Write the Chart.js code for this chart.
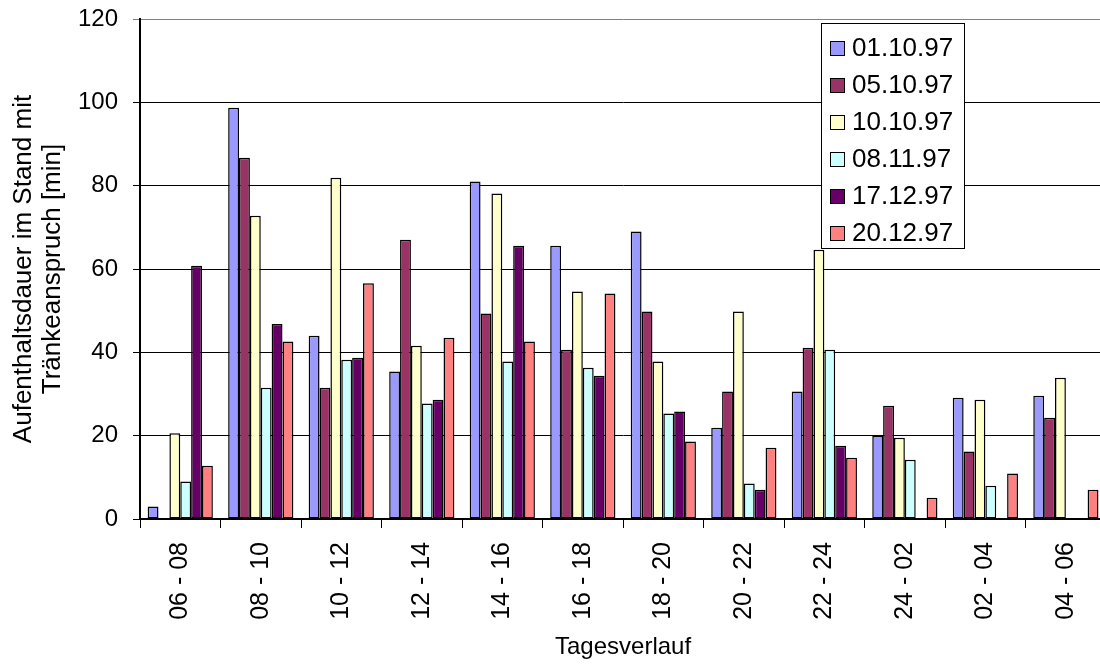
<!DOCTYPE html>
<html>
<head>
<meta charset="utf-8">
<script src="https://cdn.jsdelivr.net/npm/chart.js@4/dist/chart.umd.min.js"></script>
<style>
  html, body { margin: 0; padding: 0; background: #fff; overflow: hidden; }
  #wrap { width: 1110px; height: 665px; position: relative; }
</style>
</head>
<body>
<div id="wrap"><canvas id="chart"></canvas></div>
<script>
// Time slots of the day
const categories = ["06 - 08", "08 - 10", "10 - 12", "12 - 14", "14 - 16", "16 - 18",
                    "18 - 20", "20 - 22", "22 - 24", "24 - 02", "02 - 04", "04 - 06"];

// Minutes per slot for each observation day
const day01_10_97 = [3, 98.7, 44, 35.4, 81, 65.6, 69, 21.9, 30.6, 20, 29.1, 29.6];
const day05_10_97 = [null, 86.7, 31.5, 67, 49.3, 40.6, 49.8, 30.6, 41.1, 27.2, 16.2, 24.3];
const day10_10_97 = [20.6, 72.8, 81.9, 41.6, 78.1, 54.6, 37.8, 49.8, 64.6, 19.5, 28.6, 33.9];
const day08_11_97 = [9, 31.5, 38.2, 27.7, 37.8, 36.3, 25.3, 8.5, 40.6, 14.2, 8, null];
const day17_12_97 = [60.8, 46.8, 38.7, 28.6, 65.6, 34.4, 25.8, 7, 17.6, null, null, null];
const day20_12_97 = [12.8, 42.6, 56.6, 43.5, 42.6, 54.1, 18.6, 17.1, 14.7, 5.1, 10.9, 7];

const seriesLabels = ["01.10.97", "05.10.97", "10.10.97", "08.11.97", "17.12.97", "20.12.97"];
const seriesValues = [day01_10_97, day05_10_97, day10_10_97, day08_11_97, day17_12_97, day20_12_97];
const seriesColors = ["#9999FF", "#993366", "#FFFFCC", "#CCFFFF", "#660066", "#FF8080"];

// Y axis range and step
const yMin = 0, yMax = 120, yStep = 20;

const FONT = "'Liberation Sans', Arial, Helvetica, sans-serif";

// Boxed legend drawn inside the plot area
const boxLegend = {
  id: 'boxLegend',
  afterDatasetsDraw(chart) {
    const ctx = chart.ctx;
    const x0 = 821.5, y0 = 23.5, w = 143, h = 225;
    ctx.save();
    ctx.fillStyle = '#fff';
    ctx.fillRect(x0, y0, w, h);
    ctx.strokeStyle = '#000';
    ctx.lineWidth = 1;
    ctx.strokeRect(x0, y0, w, h);
    ctx.font = '26px ' + FONT;
    ctx.textBaseline = 'middle';
    ctx.textAlign = 'left';
    chart.data.datasets.forEach((ds, i) => {
      const cy = 48 + i * 37;
      ctx.fillStyle = ds.backgroundColor;
      ctx.fillRect(830.5, Math.round(cy - 7) + 0.5, 14, 14);
      ctx.strokeStyle = '#000';
      ctx.strokeRect(830.5, Math.round(cy - 7) + 0.5, 14, 14);
      ctx.fillStyle = '#000';
      ctx.fillText(ds.label, 852, cy + 1);
    });
    ctx.restore();
  }
};

new Chart(document.getElementById('chart'), {
  type: 'bar',
  data: {
    labels: categories,
    datasets: seriesValues.map((vals, i) => ({
      label: seriesLabels[i],
      data: vals,
      backgroundColor: seriesColors[i],
      borderColor: '#000',
      borderWidth: 1.5,
      borderSkipped: false,
      categoryPercentage: 0.81,
      barPercentage: 1.0
    }))
  },
  options: {
    responsive: true,
    maintainAspectRatio: false,
    animation: false,
    layout: { padding: { top: 19, right: 3, left: 0, bottom: 0 } },
    plugins: {
      legend: { display: false },
      tooltip: { enabled: false }
    },
    scales: {
      x: {
        grid: {
          display: true,
          offset: true,
          drawOnChartArea: false,
          drawTicks: true,
          tickLength: 9,
          color: '#000',
          lineWidth: 1
        },
        border: { display: true, color: '#000', width: 2 },
        ticks: {
          color: '#000',
          font: { family: FONT, size: 25 },
          minRotation: 90,
          maxRotation: 90,
          padding: 14,
          autoSkip: false
        },
        title: {
          display: true,
          text: 'Tagesverlauf',
          color: '#000',
          font: { family: FONT, size: 24, lineHeight: 1.2 },
          padding: { top: 0, bottom: 3 }
        },
        afterFit(scale) { scale.height = 146; }
      },
      y: {
        min: yMin,
        max: yMax,
        ticks: {
          stepSize: yStep,
          color: '#000',
          font: { family: FONT, size: 24 },
          padding: 15
        },
        grid: {
          color: (c) => (c.tick && c.tick.value === yMax ? '#808080' : '#000'),
          lineWidth: 1,
          drawTicks: true,
          tickLength: 7
        },
        border: { display: true, color: '#000', width: 2 },
        title: {
          display: true,
          text: ['Aufenthaltsdauer im Stand mit', 'Tränkeanspruch [min]'],
          color: '#000',
          font: { family: FONT, size: 26, lineHeight: 1.1 },
          padding: { top: 10, bottom: 0 }
        },
        afterFit(scale) {
          scale.width = 140;
          // the layout padding alone sets the plot's top edge
          scale.paddingTop = 0;
          scale.paddingBottom = 0;
        }
      }
    }
  },
  plugins: [boxLegend]
});
</script>
</body>
</html>
